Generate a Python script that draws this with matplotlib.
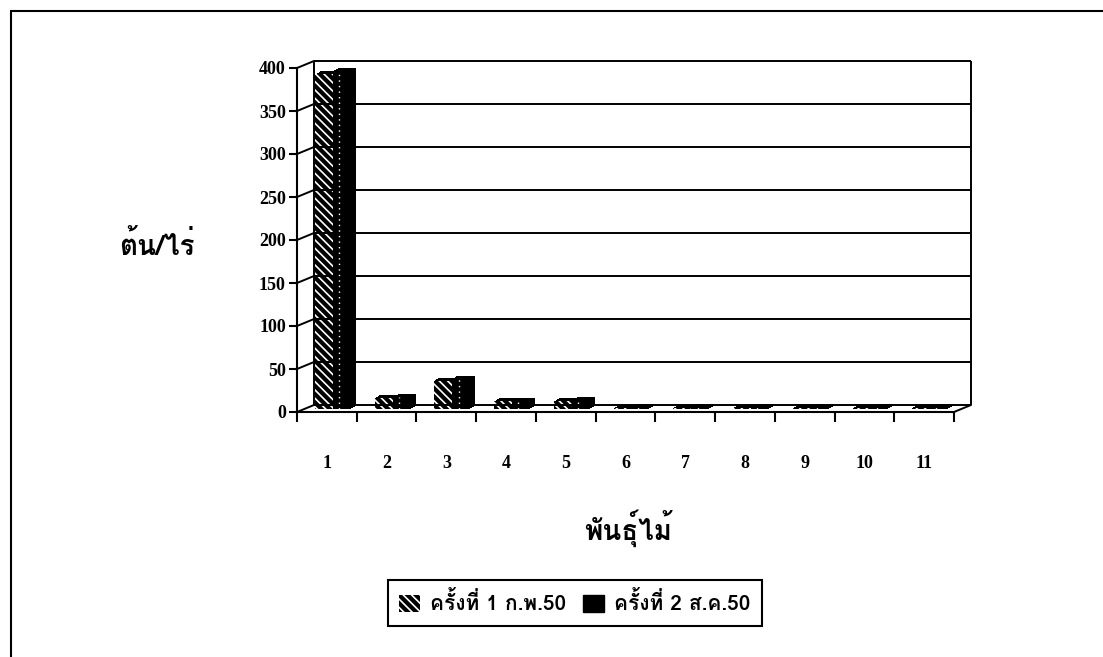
import numpy as np
import matplotlib
matplotlib.use('Agg')
import matplotlib.pyplot as plt
from matplotlib import font_manager, transforms
from matplotlib.ft2font import FT2Font
from matplotlib.patches import ConnectionPatch, Patch, Rectangle

# trees per rai, two survey rounds, 11 species
categories = [str(i) for i in range(1, 12)]
round1 = [389, 13, 33, 9, 9, 1.5, 1.5, 1.5, 1.5, 1.5, 1.5]
round2 = [393, 14, 35, 9, 10, 2, 2, 2, 2, 2, 2]
series_names = ['ครั้งที่ 1 ก.พ.50', 'ครั้งที่ 2 ส.ค.50']
y_ticks = list(range(0, 401, 50))
y_title = 'ต้น/ไร่'
x_title = 'พันธุ์ไม้'


def find_thai_font():
    # first installed family that has Thai glyphs
    for entry in font_manager.fontManager.ttflist:
        try:
            cmap = FT2Font(entry.fname).get_charmap()
        except Exception:
            continue
        if ord('ต') in cmap and ord('ไ') in cmap:
            return entry.name
    return 'DejaVu Sans'


thai = [find_thai_font(), 'DejaVu Sans']
serif = 'Liberation Serif'
plt.rcParams['hatch.linewidth'] = 1.2

W, H = 1103, 657
fig = plt.figure(figsize=(W / 100, H / 100), dpi=100)
fig.patch.set_facecolor('white')

# front face of the 3d box
ax = fig.add_axes([297 / W, 1 - 412 / H, 657 / W, 344 / H])
ax.patch.set_visible(False)

back = transforms.offset_copy(ax.transData, fig=fig, x=17, y=7, units='dots')

# back wall gridlines and edges
ax.hlines(y_ticks, 0.5, 11.5, transform=back, colors='black', lw=1.4, clip_on=False)
ax.vlines([0.5, 11.5], 0, 400, transform=back, colors='black', lw=1.4, clip_on=False)

# side wall lines and floor corner
for v in y_ticks:
    ax.add_artist(ConnectionPatch((0.5, v), (0.5, v), coordsA=ax.transData,
                                  coordsB=back, lw=1.4, color='black', clip_on=False))
ax.add_artist(ConnectionPatch((11.5, 0), (11.5, 0), coordsA=ax.transData,
                              coordsB=back, lw=1.4, color='black', clip_on=False))

x = np.arange(1, 12)
w = 0.3
offs = [-0.333, -0.033]
hatch = '\\' * 4

# extruded depth of bars
for k in range(1, 6):
    tr = transforms.offset_copy(ax.transData, fig=fig, x=8 + k, y=3 + 0.6 * k, units='dots')
    for o, vals in zip(offs, [round1, round2]):
        ax.bar(x + o, vals, width=w, align='edge', color='black', lw=0,
               transform=tr, clip_on=False)

# front faces
front = transforms.offset_copy(ax.transData, fig=fig, x=8, y=3, units='dots')
ax.bar(x + offs[0], round1, width=w, align='edge', color='black', lw=0,
       transform=front, clip_on=False)
ax.bar(x + offs[0], round1, width=w, align='edge', facecolor='none', edgecolor='white',
       hatch=hatch, lw=0, transform=front, clip_on=False)
ax.bar(x + offs[1], round2, width=w, align='edge', color='black', lw=0,
       transform=front, clip_on=False)
ax.vlines(x + offs[1] + w * 0.35, 0, round2, transform=front, colors='white',
          linestyles=(0, (1, 3)), lw=1, clip_on=False)

ax.set_xlim(0.5, 11.5)
ax.set_ylim(0, 400)

for side in ['top', 'right']:
    ax.spines[side].set_visible(False)
for side in ['left', 'bottom']:
    ax.spines[side].set_linewidth(1.5)

ax.set_yticks(y_ticks)
ax.set_yticklabels([str(v) for v in y_ticks], fontfamily=serif, fontweight='bold', fontsize=13)
ax.tick_params(axis='y', direction='out', length=6, width=1.5, pad=2)

ax.set_xticks(x)
ax.set_xticklabels(categories, fontfamily=serif, fontweight='bold', fontsize=13)
ax.set_xticks(np.arange(0.5, 12, 1), minor=True)
ax.tick_params(axis='x', which='major', length=0, pad=31)
ax.tick_params(axis='x', which='minor', direction='out', length=7, width=1.5)

fig.text(157 / W, 1 - 245 / H, y_title, ha='center', va='center', fontsize=20,
         fontweight='bold', family=thai)
fig.text(628 / W, 1 - 528 / H, x_title, ha='center', va='center', fontsize=20,
         fontweight='bold', family=thai)

handles = [Patch(facecolor='black', edgecolor='white', hatch=hatch, lw=0),
           Patch(facecolor='black', edgecolor='black')]
leg = fig.legend(handles, series_names, loc='center', bbox_to_anchor=(575 / W, 1 - 603 / H),
                 ncol=2, fancybox=False, framealpha=1, edgecolor='black',
                 prop={'family': thai, 'weight': 'bold', 'size': 15},
                 handlelength=1.0, handleheight=0.9, handletextpad=0.5,
                 columnspacing=0.8, borderpad=0.55)
leg.get_frame().set_linewidth(1.5)

# outer border
fig.add_artist(Rectangle((11 / W, -1), 2, 2 - 11 / H, transform=fig.transFigure,
                         fill=False, lw=1.5, ec='black'))

fig.savefig('out.png', dpi=100, facecolor='white')
